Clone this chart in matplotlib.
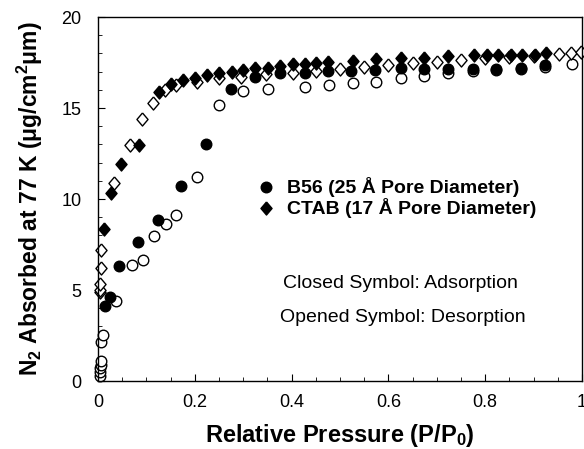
import numpy as np
import matplotlib
matplotlib.use("Agg")
import matplotlib.pyplot as plt
from matplotlib.ticker import MultipleLocator

plt.rcParams['font.family'] = ['Liberation Sans', 'DejaVu Sans']
plt.rcParams['mathtext.fontset'] = 'custom'
plt.rcParams['mathtext.rm'] = 'Liberation Sans'
plt.rcParams['mathtext.bf'] = 'Liberation Sans:bold'
plt.rcParams['mathtext.default'] = 'bf'

# B56 - adsorption (closed circles)
b56_ads_x = [0.014, 0.025, 0.044, 0.083, 0.124, 0.172, 0.223, 0.274, 0.325, 0.375, 0.427,
             0.475, 0.523, 0.573, 0.626, 0.674, 0.724, 0.774, 0.823, 0.873, 0.924]
b56_ads_y = [4.14, 4.60, 6.30, 7.64, 8.84, 10.72, 13.04, 16.02, 16.70, 16.95, 16.94,
             17.05, 17.05, 17.10, 17.18, 17.16, 17.13, 17.13, 17.16, 17.22, 17.35]

# B56 - desorption (open circles)
b56_des_x = [0.004, 0.005, 0.005, 0.006, 0.006, 0.006, 0.011, 0.037, 0.071, 0.093, 0.115,
             0.140, 0.161, 0.205, 0.250, 0.300, 0.351, 0.427, 0.477, 0.527, 0.575, 0.626,
             0.674, 0.724, 0.774, 0.823, 0.873, 0.924, 0.979]
b56_des_y = [0.3, 0.5, 0.7, 0.9, 1.1, 2.15, 2.54, 4.42, 6.35, 6.63, 7.99,
             8.65, 9.12, 11.2, 15.14, 15.93, 16.06, 16.16, 16.24, 16.35, 16.43, 16.66,
             16.76, 16.94, 17.05, 17.1, 17.15, 17.25, 17.4]

# CTAB - adsorption (closed diamonds)
ctab_ads_x = [0.012, 0.026, 0.047, 0.085, 0.126, 0.151, 0.176, 0.201, 0.225, 0.250, 0.276,
              0.300, 0.325, 0.351, 0.377, 0.403, 0.427, 0.451, 0.475, 0.527, 0.575, 0.626,
              0.674, 0.724, 0.777, 0.803, 0.827, 0.853, 0.877, 0.903, 0.926]
ctab_ads_y = [8.33, 10.35, 11.9, 12.98, 15.87, 16.30, 16.54, 16.63, 16.82, 16.9, 17.0,
              17.09, 17.18, 17.22, 17.31, 17.4, 17.4, 17.5, 17.54, 17.58, 17.68, 17.77,
              17.77, 17.86, 17.9, 17.9, 17.9, 17.9, 17.9, 17.9, 18.0]

# CTAB - desorption (open diamonds)
ctab_des_x = [0.004, 0.004, 0.005, 0.006, 0.006, 0.034, 0.067, 0.091, 0.114, 0.138, 0.162,
              0.205, 0.250, 0.296, 0.348, 0.403, 0.451, 0.500, 0.550, 0.600, 0.650, 0.700,
              0.750, 0.800, 0.850, 0.900, 0.953, 0.977, 0.997]
ctab_des_y = [4.88, 5.0, 5.34, 6.22, 7.18, 10.87, 12.98, 14.42, 15.29, 15.98, 16.24,
              16.43, 16.63, 16.72, 16.85, 16.95, 17.05, 17.15, 17.25, 17.35, 17.45, 17.55,
              17.65, 17.75, 17.8, 17.85, 17.96, 18.0, 18.07]

fig = plt.figure(figsize=(5.84, 4.49), dpi=100)
ax = fig.add_axes([0.1678, 0.1514, 0.8288, 0.8107])

# slightly tall diamond like the original symbols
romb = [(0, 1), (0.85, 0), (0, -1), (-0.85, 0), (0, 1)]
ms_c = 7.6
ms_d = 9.4

ax.plot(b56_des_x, b56_des_y, 'o', ms=ms_c, mfc='white', mec='black', mew=1.0, clip_on=False)
ax.plot(ctab_des_x, ctab_des_y, marker=romb, ls='none', ms=ms_d, mfc='white', mec='black', mew=1.0, clip_on=False)
ax.plot(b56_ads_x, b56_ads_y, 'o', ms=ms_c, color='black', clip_on=False)
ax.plot(ctab_ads_x, ctab_ads_y, marker=romb, ls='none', ms=ms_d, color='black', clip_on=False)

ax.set_xlim(0, 1)
ax.set_ylim(0, 20)
ax.xaxis.set_minor_locator(MultipleLocator(0.05))
ax.yaxis.set_major_locator(MultipleLocator(5))
ax.yaxis.set_minor_locator(MultipleLocator(1))
ax.set_xticks([0, 0.2, 0.4, 0.6, 0.8, 1.0])
ax.set_xticklabels(['0', '0.2', '0.4', '0.6', '0.8', '1'])
ax.tick_params(which='both', direction='in', top=False, right=False, labelsize=13)
ax.tick_params(axis='x', pad=9)
ax.tick_params(axis='y', pad=12)
ax.tick_params(which='major', length=5)
ax.tick_params(which='minor', length=3)
for s in ax.spines.values():
    s.set_linewidth(1.0)

ax.set_xlabel('Relative Pressure (P/P$_0$)', fontsize=17, fontweight='bold', labelpad=8)
ax.set_ylabel('N$_2$ Absorbed at 77 K (\u03bcg/cm$^2$\u03bcm)', fontsize=16.5, fontweight='bold', labelpad=12)

# legend drawn as markers + text
ax.plot([0.348], [10.65], 'o', ms=ms_c, color='black')
ax.plot([0.348], [9.5], marker=romb, ls='none', ms=ms_d, color='black')
ax.text(0.39, 10.65, 'B56 (25 \u00c5 Pore Diameter)', fontsize=14, fontweight='bold', va='center')
ax.text(0.39, 9.5, 'CTAB (17 \u00c5 Pore Diameter)', fontsize=14, fontweight='bold', va='center')
ax.text(0.625, 5.36, 'Closed Symbol: Adsorption', fontsize=14, ha='center', va='center')
ax.text(0.629, 3.48, 'Opened Symbol: Desorption', fontsize=14, ha='center', va='center')

fig.savefig('out.png', dpi=100)
